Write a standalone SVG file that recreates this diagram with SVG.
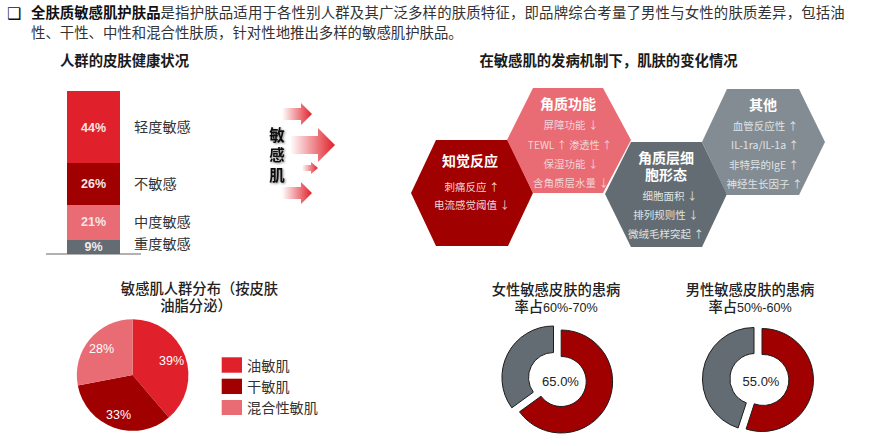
<svg xmlns="http://www.w3.org/2000/svg" width="880" height="446" viewBox="0 0 880 446">
<style>
text{font-family:"Noto Sans CJK SC","Liberation Sans",sans-serif;fill:#222}
.n{font-family:"Liberation Sans","Noto Sans CJK SC",sans-serif}
.body{font-size:14.4px}
.h{font-size:14.350px;font-weight:700;text-anchor:middle;fill:#1a1a1a}
.t{font-size:14.300px;font-weight:500;text-anchor:middle;fill:#222}
.lb{font-size:14.200px;fill:#333}
.pc{font-size:12.500px;font-weight:700;fill:#f7e6e6;text-anchor:middle}
.hx{font-size:14px;font-weight:700;fill:#fff;text-anchor:middle}
.hs{font-size:10.500px;fill:#f2d5d7;text-anchor:middle}
.hg{font-size:10.500px;fill:#dfe3e5;text-anchor:middle}
.pp{font-size:12.500px;fill:#fff;text-anchor:middle}
.dv{font-size:13px;fill:#222;text-anchor:middle}
.sm{font-size:12.600px}
.donut{stroke:#1c1c1c;stroke-width:1}
.red{fill:#E0202A}.dark{fill:#A00000}.pink{fill:#E96B74}.grey{fill:#636C72}
.ar{fill:url(#ag)}
</style>
<defs>
<linearGradient id="ag" x1="0" x2="1" y1="0" y2="0"><stop offset="0" stop-color="#E0202A" stop-opacity="0"/><stop offset="1" stop-color="#E0202A"/></linearGradient>
<filter id="sh" x="-30%" y="-30%" width="170%" height="170%"><feDropShadow dx="1" dy="1" stdDeviation="1.200" flood-color="#000" flood-opacity=".45"/></filter>
</defs>
<g id="intro">
<text x="7" y="19" style="font-family:'DejaVu Sans',sans-serif;font-size:16px;font-weight:700;fill:#111">❑</text>
<text class="body" x="31" y="18"><tspan font-weight="700" style="fill:#111">全肤质敏感肌护肤品</tspan><tspan letter-spacing=".17" style="fill:#333">是指护肤品适用于各性别人群及其广泛多样的肤质特征，即品牌综合考量了男性与女性的肤质差异，包括油</tspan></text>
<text class="body" x="31" y="38" style="fill:#333">性、干性、中性和混合性肤质，针对性地推出多样的敏感肌护肤品。</text>
</g>
<g id="bar-chart">
<text class="h" x="124.500" y="66">人群的皮肤健康状况</text>
<rect class="red" x="67" y="91" width="53" height="72"/>
<rect class="dark" x="67" y="163" width="53" height="42"/>
<rect class="pink" x="67" y="205" width="53" height="35"/>
<rect class="grey" x="67" y="240" width="53" height="14"/>
<path d="M46 254H141" stroke="#666" stroke-width="1.200"/>
<text class="pc n" x="93.500" y="132">44%</text>
<text class="pc n" x="93.500" y="188">26%</text>
<text class="pc n" x="93.500" y="226">21%</text>
<text class="pc n" x="93.500" y="251">9%</text>
<text class="lb" x="134" y="132">轻度敏感</text>
<text class="lb" x="134" y="189">不敏感</text>
<text class="lb" x="134" y="227">中度敏感</text>
<text class="lb" x="134" y="249">重度敏感</text>
</g>
<g id="arrows">
<path class="ar" d="M282 108H301V103L312 114L301 125V120H282Z"/>
<path class="ar" d="M290 136H318V128L335 145L318 162V154H290Z"/>
<path class="ar" d="M302 165H311V162L318 168L311 174V171H302Z"/>
<path class="ar" d="M282 187H301V182L312 193L301 204V199H282Z"/>
<text filter="url(#sh)" font-size="15.500" font-weight="700" text-anchor="middle" style="fill:#111"><tspan x="277" y="141">敏</tspan><tspan x="277" y="161">感</tspan><tspan x="277" y="181">肌</tspan></text>
</g>
<text class="h" x="608.500" y="66">在敏感肌的发病机制下，肌肤的变化情况</text>
<g id="hex-perception">
<polygon class="dark" points="411,193 436,140 508,140 533,193 508,246 436,246"/>
<text class="hx" x="470" y="166">知觉反应</text>
<text class="hs" x="472" y="191">刺痛反应 ↑</text>
<text class="hs" x="472" y="209">电流感觉阈值 ↓</text>
</g>
<g id="hex-stratum-function">
<polygon class="pink" points="507,140 533,88 603,88 631,140 603,193 533,193"/>
<text class="hx" x="568" y="109">角质功能</text>
<text class="hs" x="571" y="129">屏障功能 ↓</text>
<text class="hs" x="570" y="149" style="font-size:10.200px">TEWL ↑ 渗透性 ↑</text>
<text class="hs" x="571" y="168">保湿功能 ↓</text>
<text class="hs" x="571" y="187">含角质层水量 ↓</text>
</g>
<g id="hex-cell-morphology">
<polygon class="grey" points="605,194 631,142 702,142 727,194 702,247 631,247"/>
<text class="hx"><tspan x="666" y="163">角质层细</tspan><tspan x="666" y="180">胞形态</tspan></text>
<text class="hg" x="670" y="200">细胞面积 ↓</text>
<text class="hg" x="666" y="219">排列规则性 ↓</text>
<text class="hg" x="666" y="238">微绒毛样突起 ↑</text>
</g>
<g id="hex-other">
<polygon fill="#838C92" points="702,142 727,89 799,89 825,142 799,195 727,195"/>
<text class="hx" x="763" y="110">其他</text>
<text class="hg" x="765.500" y="130">血管反应性 ↑</text>
<text class="hg" x="765" y="149">IL-1ra/IL-1a ↑</text>
<text class="hg" x="764" y="169">非特异的IgE ↑</text>
<text class="hg" x="764.500" y="188">神经生长因子 ↑</text>
</g>
<g id="pie-chart">
<text class="t"><tspan x="199.500" y="294">敏感肌人群分布（按皮肤</tspan><tspan x="196" y="311">油脂分泌）</tspan></text>
<path class="red" d="M132.600 375V319.200A55.800 55.800 0 0 1 168.800 417.500Z"/>
<path class="dark" d="M132.600 375L168.800 417.500A55.800 55.800 0 0 1 77.800 385.500Z"/>
<path class="pink" d="M132.600 375L77.800 385.500A55.800 55.800 0 0 1 132.600 319.200Z"/>
<text class="pp n" x="171.500" y="365">39%</text>
<text class="pp n" x="118.500" y="419">33%</text>
<text class="pp n" x="101.500" y="353">28%</text>
</g>
<g id="legend">
<rect class="red" x="221.700" y="357.300" width="20.300" height="15.400"/>
<rect class="dark" x="221.700" y="378.700" width="20.300" height="15.300"/>
<rect class="pink" x="221.700" y="400" width="20.300" height="15"/>
<text class="lb" x="247" y="371">油敏肌</text>
<text class="lb" x="247" y="392">干敏肌</text>
<text class="lb" x="247" y="413">混合性敏肌</text>
</g>
<g id="donut-female">
<text class="t"><tspan x="556" y="295">女性敏感皮肤的患病</tspan><tspan x="556" y="312">率占<tspan class="n sm">60%-70%</tspan></tspan></text>
<path class="dark donut" d="M561.200 330A51.500 51.500 0 1 1 519.500 411.800L541 396.200A25 25 0 1 0 561.200 356.500Z"/>
<path class="grey donut" d="M553.500 326A51.500 51.500 0 0 0 511.800 407.800L533.300 392.200A25 25 0 0 1 553.500 352.500Z"/>
<text class="dv n" x="560.500" y="386">65.0%</text>
</g>
<g id="donut-male">
<text class="t"><tspan x="750" y="295">男性敏感皮肤的患病</tspan><tspan x="750" y="312">率占<tspan class="n sm">50%-60%</tspan></tspan></text>
<path class="dark donut" d="M762 328.500A51.500 51.500 0 1 1 746.100 429L754.300 403.800A25.500 25.500 0 1 0 762 354.500Z"/>
<path class="grey donut" d="M754 327.500A51.500 51.500 0 0 0 738.100 428L746.300 402.800A25.500 25.500 0 0 1 754 353.500Z"/>
<text class="dv n" x="761" y="385.500">55.0%</text>
</g>
</svg>
